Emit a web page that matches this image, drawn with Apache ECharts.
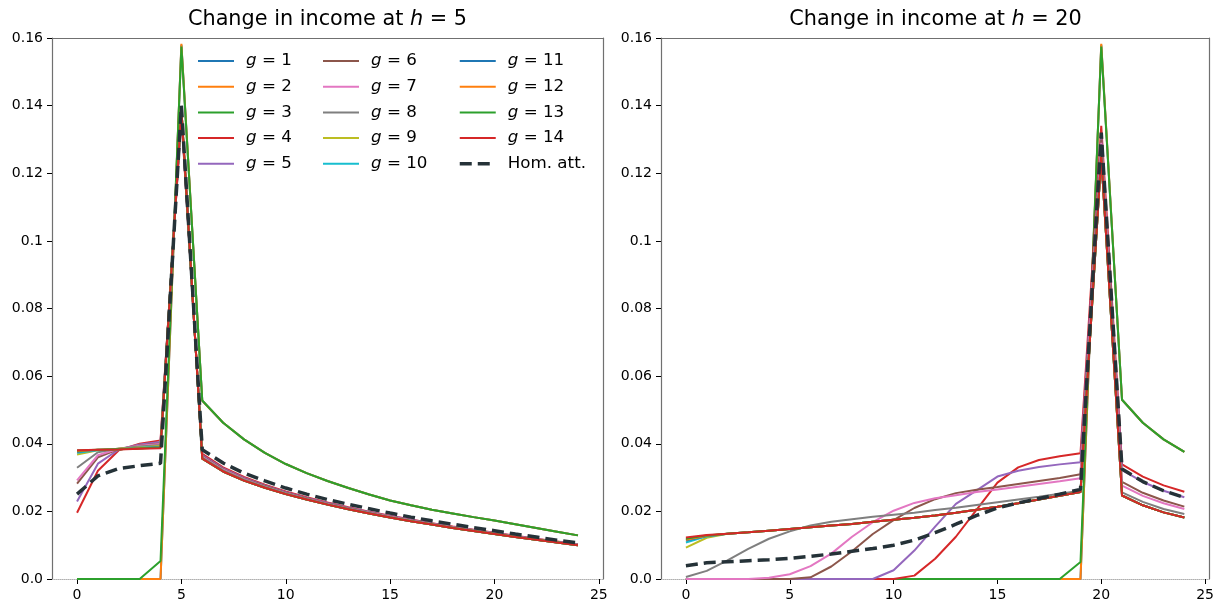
<!DOCTYPE html>
<html>
<head>
<meta charset="utf-8">
<script src="https://cdn.jsdelivr.net/npm/echarts@6/dist/echarts.min.js"></script>
<style>
html,body{margin:0;padding:0;background:#fff;}
#chart{width:1217px;height:602px;}
</style>
</head>
<body>
<div id="chart"></div>
<script>
// ---------- DATA ----------
const xSteps = [0,1,2,3,4,5,6,7,8,9,10,11,12,13,14,15,16,17,18,19,20,21,22,23,24];
const xTicks = [0,5,10,15,20,25];
const yTicks = [0,0.02,0.04,0.06,0.08,0.1,0.12,0.14,0.16];
const groupNames = ['g = 1','g = 2','g = 3','g = 4','g = 5','g = 6','g = 7','g = 8','g = 9','g = 10','g = 11','g = 12','g = 13','g = 14'];
const homName = 'Hom. att.';
const titles = ['5','20'];

// Panel h = 5
const h5_g1  = [0,0,0,0,0,0.1580,0.0527,0.0462,0.0413,0.0373,0.0340,0.0313,0.0290,0.0269,0.0250,0.0232,0.0218,0.0205,0.0194,0.0183,0.0173,0.0162,0.0151,0.0140,0.0129];
const h5_g2  = [0,0,0,0,0,0.1583,0.0527,0.0462,0.0413,0.0373,0.0340,0.0313,0.0290,0.0269,0.0250,0.0232,0.0218,0.0205,0.0194,0.0183,0.0173,0.0162,0.0151,0.0140,0.0129];
const h5_g3  = [0,0,0,0,0.0053,0.1575,0.0528,0.0462,0.0413,0.0373,0.0340,0.0313,0.0290,0.0269,0.0250,0.0232,0.0218,0.0205,0.0194,0.0183,0.0173,0.0162,0.0151,0.0140,0.0129];
const h5_g4  = [0.0196,0.0320,0.0381,0.0400,0.0410,0.1370,0.0370,0.0330,0.0302,0.0279,0.0259,0.0242,0.0226,0.0212,0.0199,0.0187,0.0176,0.0165,0.0155,0.0146,0.0137,0.0128,0.0119,0.0111,0.0103];
const h5_g5  = [0.0229,0.0341,0.0383,0.0398,0.0405,0.1375,0.0366,0.0327,0.0299,0.0277,0.0257,0.0240,0.0225,0.0211,0.0198,0.0186,0.0175,0.0164,0.0154,0.0145,0.0136,0.0127,0.0118,0.0110,0.0102];
const h5_g6  = [0.0282,0.0360,0.0384,0.0395,0.0401,0.1380,0.0363,0.0325,0.0297,0.0275,0.0255,0.0238,0.0223,0.0209,0.0197,0.0185,0.0174,0.0163,0.0153,0.0144,0.0135,0.0126,0.0117,0.0109,0.0101];
const h5_g7  = [0.0292,0.0366,0.0385,0.0394,0.0399,0.1382,0.0361,0.0323,0.0295,0.0273,0.0254,0.0237,0.0222,0.0208,0.0196,0.0184,0.0173,0.0163,0.0153,0.0144,0.0135,0.0126,0.0117,0.0109,0.0101];
const h5_g8  = [0.0329,0.0375,0.0386,0.0392,0.0396,0.1385,0.0359,0.0321,0.0294,0.0272,0.0253,0.0236,0.0221,0.0207,0.0195,0.0183,0.0172,0.0162,0.0152,0.0143,0.0134,0.0125,0.0117,0.0109,0.0101];
const h5_g9  = [0.0368,0.0381,0.0385,0.0389,0.0393,0.1388,0.0356,0.0318,0.0291,0.0270,0.0251,0.0235,0.0220,0.0206,0.0194,0.0182,0.0171,0.0161,0.0151,0.0142,0.0133,0.0124,0.0116,0.0108,0.0100];
const h5_g10 = [0.0373,0.0381,0.0384,0.0388,0.0391,0.1388,0.0356,0.0318,0.0291,0.0270,0.0251,0.0235,0.0220,0.0206,0.0194,0.0182,0.0171,0.0161,0.0151,0.0142,0.0133,0.0124,0.0116,0.0108,0.0100];
const h5_g11 = [0.0376,0.0382,0.0384,0.0387,0.0390,0.1390,0.0356,0.0318,0.0291,0.0270,0.0251,0.0235,0.0220,0.0206,0.0194,0.0182,0.0171,0.0161,0.0151,0.0142,0.0133,0.0124,0.0116,0.0108,0.0100];
const h5_g12 = [0.0378,0.0382,0.0384,0.0387,0.0389,0.1390,0.0356,0.0318,0.0291,0.0270,0.0251,0.0235,0.0220,0.0206,0.0194,0.0182,0.0171,0.0161,0.0151,0.0142,0.0133,0.0124,0.0116,0.0108,0.0100];
const h5_g13 = [0.0380,0.0382,0.0384,0.0386,0.0389,0.1390,0.0356,0.0318,0.0291,0.0270,0.0251,0.0235,0.0220,0.0206,0.0194,0.0182,0.0171,0.0161,0.0151,0.0142,0.0133,0.0124,0.0116,0.0108,0.0100];
const h5_g14 = [0.0381,0.0382,0.0383,0.0385,0.0387,0.1390,0.0356,0.0318,0.0291,0.0270,0.0251,0.0235,0.0220,0.0206,0.0194,0.0182,0.0171,0.0161,0.0151,0.0142,0.0133,0.0124,0.0116,0.0108,0.0100];
const h5_hom = [0.0251,0.0305,0.0327,0.0335,0.0342,0.1400,0.0382,0.0343,0.0313,0.0290,0.0269,0.0251,0.0235,0.0221,0.0208,0.0195,0.0183,0.0172,0.0162,0.0152,0.0143,0.0133,0.0124,0.0115,0.0107];

// Panel h = 20
const h20_g1  = [0,0,0,0,0,0,0,0,0,0,0,0,0,0,0,0,0,0,0,0,0.1580,0.0530,0.0462,0.0413,0.0376];
const h20_g2  = [0,0,0,0,0,0,0,0,0,0,0,0,0,0,0,0,0,0,0,0,0.1583,0.0530,0.0462,0.0413,0.0376];
const h20_g3  = [0,0,0,0,0,0,0,0,0,0,0,0,0,0,0,0,0,0,0,0.0050,0.1575,0.0530,0.0462,0.0413,0.0376];
const h20_g4  = [0,0,0,0,0,0,0,0,0,0,0,0.0010,0.0060,0.0125,0.0205,0.0285,0.0330,0.0352,0.0363,0.0372,0.1340,0.0339,0.0303,0.0277,0.0258];
const h20_g5  = [0,0,0,0,0,0,0,0,0,0,0.0026,0.0084,0.0155,0.0222,0.0262,0.0303,0.0320,0.0331,0.0339,0.0345,0.1310,0.0322,0.0287,0.0261,0.0242];
const h20_g6  = [0,0,0,0,0,0,0.0005,0.0037,0.0082,0.0133,0.0174,0.0210,0.0236,0.0254,0.0264,0.0272,0.0281,0.0290,0.0299,0.0310,0.1300,0.0287,0.0255,0.0232,0.0214];
const h20_g7  = [0,0,0,0,0.0004,0.0014,0.0038,0.0075,0.0125,0.0168,0.0202,0.0225,0.0239,0.0248,0.0257,0.0265,0.0273,0.0281,0.0289,0.0298,0.1290,0.0276,0.0246,0.0224,0.0207];
const h20_g8  = [0.0006,0.0024,0.0055,0.0089,0.0119,0.0141,0.0158,0.0169,0.0177,0.0184,0.0190,0.0196,0.0204,0.0211,0.0219,0.0227,0.0235,0.0243,0.0252,0.0261,0.1270,0.0256,0.0228,0.0207,0.0192];
const h20_g9  = [0.0093,0.0122,0.0134,0.0138,0.0143,0.0148,0.0153,0.0158,0.0163,0.0169,0.0175,0.0181,0.0188,0.0196,0.0205,0.0214,0.0224,0.0235,0.0246,0.0257,0.1250,0.0247,0.0218,0.0197,0.0182];
const h20_g10 = [0.0108,0.0126,0.0134,0.0138,0.0143,0.0148,0.0153,0.0158,0.0163,0.0169,0.0175,0.0181,0.0188,0.0196,0.0205,0.0214,0.0224,0.0235,0.0246,0.0257,0.1250,0.0247,0.0218,0.0197,0.0182];
const h20_g11 = [0.0114,0.0127,0.0134,0.0138,0.0143,0.0148,0.0153,0.0158,0.0163,0.0169,0.0175,0.0181,0.0188,0.0196,0.0205,0.0214,0.0224,0.0235,0.0246,0.0257,0.1250,0.0247,0.0218,0.0197,0.0182];
const h20_g12 = [0.0116,0.0128,0.0134,0.0138,0.0143,0.0148,0.0153,0.0158,0.0163,0.0169,0.0175,0.0181,0.0188,0.0196,0.0205,0.0214,0.0224,0.0235,0.0246,0.0257,0.1250,0.0247,0.0218,0.0197,0.0182];
const h20_g13 = [0.0119,0.0129,0.0134,0.0138,0.0143,0.0148,0.0153,0.0158,0.0163,0.0169,0.0175,0.0181,0.0188,0.0196,0.0205,0.0214,0.0224,0.0235,0.0246,0.0257,0.1250,0.0247,0.0218,0.0197,0.0182];
const h20_g14 = [0.0123,0.0130,0.0134,0.0138,0.0143,0.0148,0.0153,0.0158,0.0163,0.0169,0.0175,0.0181,0.0188,0.0196,0.0205,0.0214,0.0224,0.0235,0.0246,0.0257,0.1250,0.0247,0.0218,0.0197,0.0182];
const h20_hom = [0.0039,0.0048,0.0051,0.0054,0.0057,0.0061,0.0067,0.0074,0.0082,0.0090,0.0100,0.0115,0.0137,0.0162,0.0188,0.0210,0.0225,0.0238,0.0251,0.0265,0.1320,0.0325,0.0288,0.0261,0.0241];

const h5Groups  = [h5_g1,h5_g2,h5_g3,h5_g4,h5_g5,h5_g6,h5_g7,h5_g8,h5_g9,h5_g10,h5_g11,h5_g12,h5_g13,h5_g14];
const h20Groups = [h20_g1,h20_g2,h20_g3,h20_g4,h20_g5,h20_g6,h20_g7,h20_g8,h20_g9,h20_g10,h20_g11,h20_g12,h20_g13,h20_g14];

// ---------- STYLE ----------
const FONT = 'DejaVu Sans';
const palette = ['#1f77b4','#ff7f0e','#2ca02c','#d62728','#9467bd','#8c564b','#e377c2','#7f7f7f','#bcbd22','#17becf','#1f77b4','#ff7f0e','#2ca02c','#d62728'];
const homColor = '#253238';
const spine = '#707070';

const grids = [
  {left: 52, top: 38, width: 551, height: 544},
  {left: 661, top: 38, width: 549, height: 544}
];

function pairs(vals){ return xSteps.map((x,i)=>[x, vals[i]]); }

function yFmt(v){
  if (Math.abs(v) < 1e-9) return '0.0';
  return String(Math.round(v*100)/100);
}

const xAxes = [], yAxes = [];
grids.forEach((g, gi) => {
  xAxes.push({
    type:'value', gridIndex: gi, min:-1.2, max:25.2, position:'bottom',
    axisLine:{show:true, onZero:false, lineStyle:{color:'#b0b0b0', type:'dotted', width:1}},
    axisTick:{show:true, customValues:xTicks, length:5, inside:false, lineStyle:{color:'#000', width:1}},
    axisLabel:{show:true, customValues:xTicks, margin:9, fontSize:14, color:'#000', fontFamily:FONT},
    splitLine:{show:false}
  });
  xAxes.push({
    type:'value', gridIndex: gi, min:-1.2, max:25.2, position:'top',
    axisLine:{show:true, onZero:false, lineStyle:{color:spine, width:1.2}},
    axisTick:{show:false}, axisLabel:{show:false}, splitLine:{show:false}
  });
  yAxes.push({
    type:'value', gridIndex: gi, min:0, max:0.16, interval:0.02, position:'left',
    axisLine:{show:true, onZero:false, lineStyle:{color:spine, width:1.2}},
    axisTick:{show:true, length:5, inside:false, lineStyle:{color:'#000', width:1}},
    axisLabel:{show:true, margin:9, fontSize:14, color:'#000', fontFamily:FONT, formatter:yFmt},
    splitLine:{show:false}
  });
  yAxes.push({
    type:'value', gridIndex: gi, min:0, max:0.16, interval:0.02, position:'right',
    axisLine:{show:true, onZero:false, lineStyle:{color:spine, width:1.2}},
    axisTick:{show:false}, axisLabel:{show:false}, splitLine:{show:false}
  });
});

const series = [];
[h5Groups, h20Groups].forEach((groups, pi) => {
  groups.forEach((vals, gi) => {
    series.push({
      type:'line', name: groupNames[gi], xAxisIndex: pi*2, yAxisIndex: pi*2,
      data: pairs(vals), symbol:'none', showSymbol:false, silent:true,
      lineStyle:{color: palette[gi], width:2}, itemStyle:{color: palette[gi]},
      animation:false
    });
  });
  series.push({
    type:'line', name: homName, xAxisIndex: pi*2, yAxisIndex: pi*2,
    data: pairs(pi === 0 ? h5_hom : h20_hom), symbol:'none', showSymbol:false, silent:true,
    lineStyle:{color: homColor, width:3.5, type:[12,6]}, itemStyle:{color: homColor},
    animation:false
  });
});

const legRich = {
  p:{width:7, fontSize:16.7, lineHeight:16, fontFamily:FONT},
  i:{fontStyle:'italic', fontSize:16.7, lineHeight:16, color:'#000', fontFamily:FONT},
  t:{fontSize:16.7, lineHeight:16, color:'#000', fontFamily:FONT}
};
function legFmt(name){
  if (name.charAt(0) === 'g') return '{p|}{i|g}{t|' + name.slice(1) + '}';
  return '{p|}{t|' + name + '}';
}
const legendCols = [
  {left:197, data: groupNames.slice(0,5)},
  {left:322, data: groupNames.slice(5,10)},
  {left:458, data: groupNames.slice(10,14).concat([homName])}
];
const legends = legendCols.map(c => ({
  show:true, orient:'vertical', left:c.left, top:52.5, padding:0, data:c.data,
  itemWidth:36, itemHeight:16, itemGap:8.7, selectedMode:false,
  itemStyle:{opacity:0},
  lineStyle:{width:'inherit'},
  formatter: legFmt, textStyle:{rich: legRich, fontFamily:FONT, fontSize:16.7, color:'#000'},
  inactiveColor:'#ccc'
}));

const titleRich = {
  t:{fontSize:20.8, fontFamily:FONT, color:'#000'},
  i:{fontSize:20.8, fontFamily:FONT, color:'#000', fontStyle:'italic'}
};
const titleOpts = titles.map((h, i) => ({
  text: '{t|Change in income at }{i|h}{t| = ' + h + '}',
  left: grids[i].left + grids[i].width/2, top: 9, padding:0, textAlign:'center',
  textStyle:{rich: titleRich, fontWeight:'normal'}
}));

const chart = echarts.init(document.getElementById('chart'), null, {renderer:'canvas'});
chart.setOption({
  backgroundColor:'#fff',
  animation:false,
  title: titleOpts,
  legend: legends,
  grid: grids,
  xAxis: xAxes,
  yAxis: yAxes,
  series: series
});
</script>
</body>
</html>
